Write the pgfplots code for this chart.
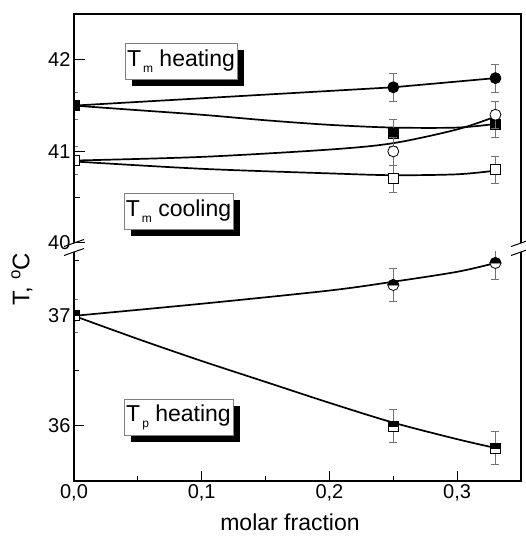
\documentclass[border=0pt]{standalone}
\usepackage{fontspec}
\setmainfont{Liberation Sans}
\usepackage{pgfplots}
\pgfplotsset{compat=1.18}
\usetikzlibrary{shadows}

\pgfdeclareplotmark{tophalfcircle}{%
  \pgfpathcircle{\pgfpointorigin}{\pgfplotmarksize}%
  \pgfsetfillcolor{white}%
  \pgfusepathqfillstroke
  \pgfpathmoveto{\pgfqpoint{\pgfplotmarksize}{0pt}}%
  \pgfpatharc{0}{180}{\pgfplotmarksize}%
  \pgfpathclose
  \pgfsetfillcolor{black}%
  \pgfusepathqfillstroke
}
\pgfdeclareplotmark{tophalfsquare}{%
  \pgfpathrectangle{\pgfqpoint{-\pgfplotmarksize}{-\pgfplotmarksize}}{\pgfqpoint{2\pgfplotmarksize}{2\pgfplotmarksize}}%
  \pgfsetfillcolor{white}%
  \pgfusepathqfillstroke
  \pgfpathrectangle{\pgfqpoint{-\pgfplotmarksize}{0pt}}{\pgfqpoint{2\pgfplotmarksize}{\pgfplotmarksize}}%
  \pgfsetfillcolor{black}%
  \pgfusepathqfillstroke
}

\pgfplotsset{
  myax/.style={
    scale only axis, width=447pt, height=229pt, anchor=south west,
    xmin=0, xmax=0.35,
    axis line style={draw=none},
    tick align=inside, ytick pos=left, xtick pos=bottom,
    major tick length=11pt, minor tick length=6pt,
    tick style={black, line width=1pt},
    ticklabel style={font=\fontsize{20}{23}\selectfont},
    /pgf/number format/assume math mode=true,
    clip mode=individual,
    clip marker paths=true,
  },
  eb/.style={error bars/.cd, y dir=both, y fixed=0.15,
    error bar style={line width=0.7pt, black!55},
    error mark options={line width=0.7pt, black!55, mark size=4pt, rotate=90}},
  crv/.style={line width=1.7pt, black, no marks},
}

\begin{document}
\begin{tikzpicture}
\useasboundingbox (0pt,0pt) rectangle (525pt,538pt);

% ---------- upper part ----------
\begin{axis}[myax, at={(74pt,295pt)},
  ymin=40, ymax=42.5,
  ytick={40,41,42}, minor ytick={40.5,41.5},
  xtick=\empty]
\addplot[crv] coordinates {(0,41.5)(0.25,41.7)(0.33,41.8)};
\addplot[crv, smooth] coordinates {(0,41.5)(0.05,41.45)(0.1,41.40)(0.15,41.34)(0.2,41.29)(0.25,41.26)(0.3,41.26)(0.33,41.3)};
\addplot[crv, smooth] coordinates {(0,40.9)(0.1,40.94)(0.2,41.02)(0.25,41.09)(0.3,41.24)(0.33,41.38)};
\addplot[crv, smooth] coordinates {(0,40.89)(0.1,40.81)(0.2,40.76)(0.25,40.74)(0.3,40.75)(0.33,40.79)};
\addplot[only marks, mark=*, mark size=5.5pt, mark options={fill=black, draw=black, line width=0.8pt}, eb]
  coordinates {(0,41.5)(0.25,41.7)(0.33,41.8)};
\addplot[only marks, mark=square*, mark size=5pt, mark options={fill=black, draw=black, line width=0.8pt}, eb]
  coordinates {(0,41.5)(0.25,41.2)(0.33,41.3)};
\addplot[only marks, mark=*, mark size=5.5pt, mark options={fill=white, draw=black, line width=0.8pt}, eb]
  coordinates {(0,40.9)(0.25,41.0)(0.33,41.4)};
\addplot[only marks, mark=square*, mark size=5pt, mark options={fill=white, draw=black, line width=0.8pt}, eb]
  coordinates {(0,40.9)(0.25,40.7)(0.33,40.8)};
\draw[line width=1.2pt] (rel axis cs:0,0) -- (rel axis cs:0,1) -- (rel axis cs:1,1) -- (rel axis cs:1,0);
\end{axis}

% ---------- lower part ----------
\begin{axis}[myax, at={(74pt,57pt)},
  ymin=35.5, ymax=37.58,
  ytick={36,37}, minor ytick={36.5,37.5},
  xtick={0,0.1,0.2,0.3}, minor xtick={0.05,0.15,0.25,0.35},
  major tick length=10pt, minor tick length=5pt,
  xticklabel style={/pgf/number format/.cd, use comma, fixed, fixed zerofill, precision=1}]
\addplot[crv, smooth] coordinates {(0,37.0)(0.1,37.11)(0.2,37.23)(0.25,37.31)(0.3,37.40)(0.33,37.48)};
\addplot[crv, smooth] coordinates {(0,37.0)(0.05,36.79)(0.1,36.59)(0.15,36.40)(0.2,36.21)(0.25,36.03)(0.3,35.88)(0.33,35.8)};
\addplot[only marks, mark=tophalfcircle, mark size=5.5pt, mark options={line width=0.8pt}, eb]
  coordinates {(0,37.0)(0.25,37.28)(0.33,37.48)};
\addplot[only marks, mark=tophalfsquare, mark size=5pt, mark options={line width=0.8pt}, eb]
  coordinates {(0,37.0)(0.25,36.0)(0.33,35.8)};
\draw[line width=1.2pt] (rel axis cs:0,1) -- (rel axis cs:0,0) -- (rel axis cs:1,0) -- (rel axis cs:1,1);
\end{axis}

% axis break marks
\foreach \xx in {74,521} {
  \draw[line width=1pt] (\xx pt-10pt,291.5pt) -- (\xx pt+10pt,298.5pt);
  \draw[line width=1pt] (\xx pt-10pt,282.5pt) -- (\xx pt+10pt,289.5pt);
}

% annotation boxes
\tikzset{lbl/.style={draw=black!50, line width=0.6pt, fill=white,
  drop shadow={shadow xshift=7pt, shadow yshift=-7pt, fill=black, opacity=1},
  minimum height=36pt, inner sep=2pt, font=\fontsize{23}{27}\selectfont}}
\newcommand{\sub}[1]{\raisebox{-0.45ex}{\fontsize{12}{14}\selectfont\,#1}}
\node[lbl, minimum width=112pt] at (181pt,477pt) {T\sub{m} heating};
\node[lbl, minimum width=109pt] at (178.5pt,327pt) {T\sub{m} cooling};
\node[lbl, minimum width=109pt] at (178.5pt,120.5pt) {T\sub{p} heating};

% axis titles
\node[font=\fontsize{23}{27}\selectfont] at (290pt,16pt) {molar fraction};
\node[font=\fontsize{24}{28}\selectfont, rotate=90] at (22pt,259pt) {T, \textsuperscript{o}C};
\end{tikzpicture}
\end{document}
